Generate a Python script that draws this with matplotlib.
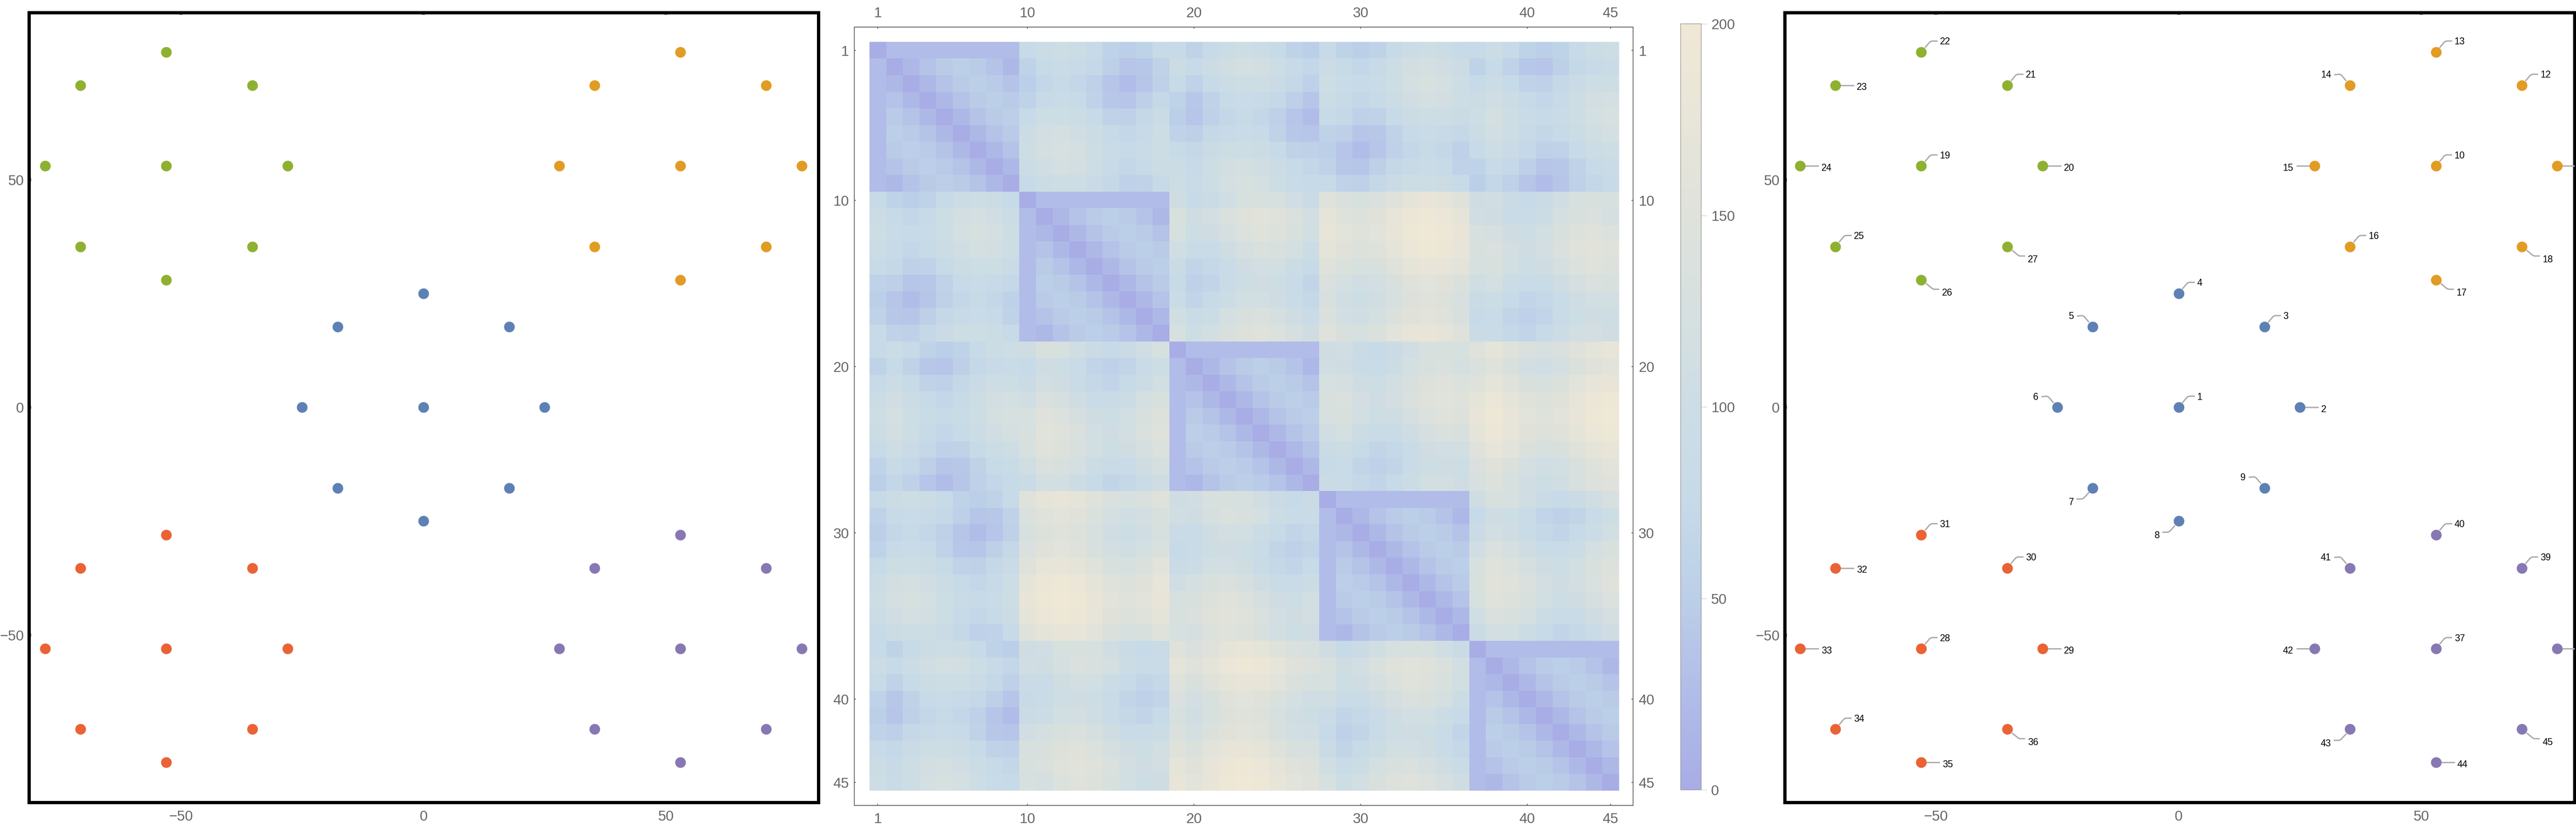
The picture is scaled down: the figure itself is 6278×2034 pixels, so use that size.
import numpy as np
import matplotlib
matplotlib.use('Agg')
from matplotlib import pyplot as plt
from matplotlib.colors import LinearSegmentedColormap

plt.rcParams['font.family'] = ['Liberation Sans', 'DejaVu Sans']

# point positions, one pair of lists per colour, in label order
blue_x = [0, 25, 17.7, 0, -17.7, -25, -17.7, 0, 17.7]
blue_y = [0, 0, 17.7, 25, 17.7, 0, -17.7, -25, -17.7]
orange_x = [53, 78, 70.7, 53, 35.3, 28, 35.3, 53, 70.7]
orange_y = [53, 53, 70.7, 78, 70.7, 53, 35.3, 28, 35.3]
green_x = [-53, -28, -35.3, -53, -70.7, -78, -70.7, -53, -35.3]
green_y = [53, 53, 70.7, 78, 70.7, 53, 35.3, 28, 35.3]
red_x = [-53, -28, -35.3, -53, -70.7, -78, -70.7, -53, -35.3]
red_y = [-53, -53, -35.3, -28, -35.3, -53, -70.7, -78, -70.7]
purple_x = [53, 78, 70.7, 53, 35.3, 28, 35.3, 53, 70.7]
purple_y = [-53, -53, -35.3, -28, -35.3, -53, -70.7, -78, -70.7]

# which way each label leaves its point, labels 1 to 45
label_dirs = ['NE', 'E', 'NE', 'NE', 'NW', 'NW', 'SW', 'SW', 'NW',
              'NE', 'E', 'NE', 'NE', 'NW', 'W', 'NE', 'SE', 'SE',
              'NE', 'E', 'NE', 'NE', 'E', 'E', 'NE', 'SE', 'SE',
              'NE', 'E', 'NE', 'NE', 'E', 'E', 'NE', 'E', 'SE',
              'NE', 'E', 'NE', 'NE', 'NW', 'W', 'SW', 'E', 'SE']

within = [[0, 25, 25, 25, 25, 25, 25, 25, 25],
          [25, 0, 19, 35, 46, 50, 46, 35, 19],
          [25, 19, 0, 19, 35, 46, 50, 46, 35],
          [25, 35, 19, 0, 19, 35, 46, 50, 46],
          [25, 46, 35, 19, 0, 19, 35, 46, 50],
          [25, 50, 46, 35, 19, 0, 19, 35, 46],
          [25, 46, 50, 46, 35, 19, 0, 19, 35],
          [25, 35, 46, 50, 46, 35, 19, 0, 19],
          [25, 19, 35, 46, 50, 46, 35, 19, 0]]
b12 = [[75, 94, 100, 94, 79, 60, 50, 60, 79],
       [60, 75, 84, 83, 71, 53, 37, 40, 58],
       [50, 70, 75, 70, 56, 37, 25, 37, 56],
       [60, 83, 84, 75, 58, 40, 37, 53, 71],
       [79, 102, 103, 93, 75, 58, 56, 71, 90],
       [94, 116, 119, 110, 93, 75, 70, 83, 102],
       [100, 119, 125, 119, 103, 84, 75, 84, 103],
       [94, 110, 119, 116, 102, 83, 70, 75, 93],
       [79, 93, 103, 102, 90, 71, 56, 58, 75]]
b13 = [[75, 60, 79, 94, 100, 94, 79, 60, 50],
       [94, 75, 93, 110, 119, 116, 102, 83, 70],
       [79, 58, 75, 93, 103, 102, 90, 71, 56],
       [60, 40, 58, 75, 84, 83, 71, 53, 37],
       [50, 37, 56, 70, 75, 70, 56, 37, 25],
       [60, 53, 71, 83, 84, 75, 58, 40, 37],
       [79, 71, 90, 102, 103, 93, 75, 58, 56],
       [94, 83, 102, 116, 119, 110, 93, 75, 70],
       [100, 84, 103, 119, 125, 119, 103, 84, 75]]
b14 = [[75, 60, 50, 60, 79, 94, 100, 94, 79],
       [94, 75, 70, 83, 102, 116, 119, 110, 93],
       [100, 84, 75, 84, 103, 119, 125, 119, 103],
       [94, 83, 70, 75, 93, 110, 119, 116, 102],
       [79, 71, 56, 58, 75, 93, 103, 102, 90],
       [60, 53, 37, 40, 58, 75, 84, 83, 71],
       [50, 37, 25, 37, 56, 70, 75, 70, 56],
       [60, 40, 37, 53, 71, 83, 84, 75, 58],
       [79, 58, 56, 71, 90, 102, 103, 93, 75]]
b15 = [[75, 94, 79, 60, 50, 60, 79, 94, 100],
       [60, 75, 58, 40, 37, 53, 71, 83, 84],
       [79, 93, 75, 58, 56, 71, 90, 102, 103],
       [94, 110, 93, 75, 70, 83, 102, 116, 119],
       [100, 119, 103, 84, 75, 84, 103, 119, 125],
       [94, 116, 102, 83, 70, 75, 93, 110, 119],
       [79, 102, 90, 71, 56, 58, 75, 93, 103],
       [60, 83, 71, 53, 37, 40, 58, 75, 84],
       [50, 70, 56, 37, 25, 37, 56, 70, 75]]
b23 = [[106, 81, 90, 109, 125, 131, 125, 109, 90],
       [131, 106, 115, 133, 150, 156, 150, 133, 115],
       [125, 100, 106, 124, 141, 150, 146, 131, 112],
       [109, 85, 89, 106, 124, 133, 131, 117, 98],
       [90, 66, 71, 89, 106, 115, 112, 98, 79],
       [81, 56, 66, 85, 100, 106, 100, 85, 66],
       [90, 66, 79, 98, 112, 115, 106, 89, 71],
       [109, 85, 98, 117, 131, 133, 124, 106, 89],
       [125, 100, 112, 131, 146, 150, 141, 124, 106]]
b24 = [[150, 133, 125, 133, 152, 169, 175, 169, 152],
       [169, 150, 144, 154, 173, 189, 193, 185, 168],
       [175, 158, 150, 158, 177, 193, 200, 193, 177],
       [169, 154, 144, 150, 168, 185, 193, 189, 173],
       [152, 139, 127, 132, 150, 168, 177, 173, 158],
       [133, 120, 109, 115, 132, 150, 158, 154, 139],
       [125, 109, 100, 109, 127, 144, 150, 144, 127],
       [133, 115, 109, 120, 139, 154, 158, 150, 132],
       [152, 132, 127, 139, 158, 173, 177, 168, 150]]
b25 = [[106, 109, 90, 81, 90, 109, 125, 131, 125],
       [109, 106, 89, 85, 98, 117, 131, 133, 124],
       [125, 124, 106, 100, 112, 131, 146, 150, 141],
       [131, 133, 115, 106, 115, 133, 150, 156, 150],
       [125, 131, 112, 100, 106, 124, 141, 150, 146],
       [109, 117, 98, 85, 89, 106, 124, 133, 131],
       [90, 98, 79, 66, 71, 89, 106, 115, 112],
       [81, 85, 66, 56, 66, 85, 100, 106, 100],
       [90, 89, 71, 66, 79, 98, 112, 115, 106]]
b34 = [[106, 109, 90, 81, 90, 109, 125, 131, 125],
       [109, 106, 89, 85, 98, 117, 131, 133, 124],
       [125, 124, 106, 100, 112, 131, 146, 150, 141],
       [131, 133, 115, 106, 115, 133, 150, 156, 150],
       [125, 131, 112, 100, 106, 124, 141, 150, 146],
       [109, 117, 98, 85, 89, 106, 124, 133, 131],
       [90, 98, 79, 66, 71, 89, 106, 115, 112],
       [81, 85, 66, 56, 66, 85, 100, 106, 100],
       [90, 89, 71, 66, 79, 98, 112, 115, 106]]
b35 = [[150, 169, 152, 133, 125, 133, 152, 169, 175],
       [133, 150, 132, 115, 109, 120, 139, 154, 158],
       [152, 168, 150, 132, 127, 139, 158, 173, 177],
       [169, 185, 168, 150, 144, 154, 173, 189, 193],
       [175, 193, 177, 158, 150, 158, 177, 193, 200],
       [169, 189, 173, 154, 144, 150, 168, 185, 193],
       [152, 173, 158, 139, 127, 132, 150, 168, 177],
       [133, 154, 139, 120, 109, 115, 132, 150, 158],
       [125, 144, 127, 109, 100, 109, 127, 144, 150]]
b45 = [[106, 131, 125, 109, 90, 81, 90, 109, 125],
       [81, 106, 100, 85, 66, 56, 66, 85, 100],
       [90, 115, 106, 89, 71, 66, 79, 98, 112],
       [109, 133, 124, 106, 89, 85, 98, 117, 131],
       [125, 150, 141, 124, 106, 100, 112, 131, 146],
       [131, 156, 150, 133, 115, 106, 115, 133, 150],
       [125, 150, 146, 131, 112, 100, 106, 124, 141],
       [109, 133, 131, 117, 98, 85, 89, 106, 124],
       [90, 115, 112, 98, 79, 66, 71, 89, 106]]

matrix_ticks = [1, 10, 20, 30, 40, 45]
scale_ticks = [0, 50, 100, 150, 200]

W, H = 6278, 2034
DPI = 100
PX = 72 / DPI
GRAY = '#666666'
COLORS = ['#5E81B5', '#E19C24', '#8FB131', '#EB6235', '#8778B3']


def px_axes(fig, left, top, right, bottom):
    return fig.add_axes([left / W, 1 - bottom / H, (right - left) / W, (bottom - top) / H])


def scatter_panel(fig, left, right, xlim):
    ax = px_axes(fig, left, 31, right, 1955)
    groups = [(blue_x, blue_y), (orange_x, orange_y), (green_x, green_y),
              (red_x, red_y), (purple_x, purple_y)]
    for (xs, ys), color in zip(groups, COLORS):
        ax.scatter(xs, ys, s=(26 * PX) ** 2, color=color, linewidths=0, zorder=4)
    ax.set_xlim(*xlim)
    ax.set_ylim(-86.8, 86.65)
    for spine in ax.spines.values():
        spine.set_linewidth(8 * PX)
        spine.set_color('black')
        spine.set_zorder(2)
    ticks = [t for t in range(-80, 90, 10) if t % 50 != 0]
    ax.set_xticks([-50, 0, 50])
    ax.set_yticks([-50, 0, 50])
    ax.set_xticks(ticks, minor=True)
    ax.set_yticks(ticks, minor=True)
    ax.tick_params(which='major', direction='in', length=4.5 * PX, width=8 * PX, color=GRAY,
                   top=True, right=True, labelsize=25, labelcolor=GRAY)
    ax.tick_params(which='minor', direction='in', length=3.5 * PX, width=8 * PX, color=GRAY,
                   top=True, right=True)
    ax.tick_params(axis='x', which='major', pad=18 * PX)
    ax.tick_params(axis='y', which='major', pad=13 * PX)
    return ax


# leader shapes and text anchors, in pixels from the point
LEADERS = {
    'NE': ([(10, 12), (21, 25), (26, 27), (38, 27)], (45, 25), 'left'),
    'E': ([(11, 0), (44, 0)], (52, -5), 'left'),
    'SE': ([(13, -10), (25, -20), (30, -23), (42, -23)], (50, -32), 'left'),
    'NW': ([(-10, 12), (-21, 25), (-26, 27), (-37, 26)], (-46, 25), 'right'),
    'W': ([(-11, 0), (-43, 0)], (-52, -5), 'right'),
    'SW': ([(-10, -12), (-22, -25), (-27, -27), (-38, -27)], (-46, -35), 'right'),
}


def add_labels(ax, xs, ys):
    x0, x1 = ax.get_xlim()
    y0, y1 = ax.get_ylim()
    sx = (x1 - x0) / ax.bbox.width
    sy = (y1 - y0) / ax.bbox.height
    for i, (x, y) in enumerate(zip(xs, ys)):
        path, (tx, ty), ha = LEADERS[label_dirs[i]]
        ax.plot([x + p[0] * sx for p in path], [y + p[1] * sy for p in path],
                color='#ABABAB', lw=3.3 * PX, solid_joinstyle='round', zorder=3)
        # numbers 11 and 38 fall off the frame and do not show
        if x + tx * sx >= x1:
            continue
        ax.text(x + tx * sx, y + ty * sy, str(i + 1), fontsize=16.5, color='black',
                ha=ha, va='center', clip_on=True, zorder=5)


fig = plt.figure(figsize=(W / DPI, H / DPI), dpi=DPI, facecolor='white')

# left panel
scatter_panel(fig, 71, 1995, (-81.3, 81.5))

# heat map
cmap = LinearSegmentedColormap.from_list('scale', [
    (0, '#A8ADE6'), (0.125, '#B1BCE8'), (0.25, '#BCCFE8'), (0.375, '#C6DAE8'), (0.5, '#CDDDE5'),
    (0.625, '#D6E0E0'), (0.75, '#DFE2DB'), (0.875, '#E8E5D9'), (1, '#F0E8D6')])
blocks = [[within, b12, b13, b14, b15],
          [None, within, b23, b24, b25],
          [None, None, within, b34, b35],
          [None, None, None, within, b45],
          [None, None, None, None, within]]
# lower half mirrors the upper half
for i in range(5):
    for j in range(i):
        blocks[i][j] = np.transpose(blocks[j][i])
matrix = np.vstack([np.hstack(row) for row in blocks])
ax = px_axes(fig, 2082, 66, 3980, 1962)
im = ax.imshow(matrix, cmap=cmap, vmin=0, vmax=200, aspect='auto', interpolation='nearest',
               extent=(0.5, 45.5, 45.5, 0.5))
ax.set_xlim(-0.4, 46.36)
ax.set_ylim(46.39, -0.41)
for spine in ax.spines.values():
    spine.set_linewidth(2 * PX)
    spine.set_color(GRAY)
ax.set_xticks(matrix_ticks)
ax.set_yticks(matrix_ticks)
ax.tick_params(direction='in', length=4 * PX, width=2 * PX, color=GRAY, labelsize=25, labelcolor=GRAY,
               top=True, right=True, labeltop=True, labelright=True)
ax.tick_params(axis='x', pad=17 * PX)
ax.tick_params(axis='y', pad=13 * PX)

# colour scale
cax = px_axes(fig, 4096, 58, 4146, 1924)
cbar = fig.colorbar(im, cax=cax, ticks=scale_ticks)
cbar.outline.set_edgecolor('#999999')
cbar.outline.set_linewidth(1.5 * PX)
cax.tick_params(length=14 * PX, width=1.2 * PX, color='#CCCCCC', labelsize=25, labelcolor=GRAY, pad=10 * PX)

# right panel, points with their numbers
ax = scatter_panel(fig, 4350, 6275, (-81.1, 81.6))
add_labels(ax, blue_x + orange_x + green_x + red_x + purple_x,
           blue_y + orange_y + green_y + red_y + purple_y)

fig.savefig('out.png', dpi=DPI, facecolor='white')
